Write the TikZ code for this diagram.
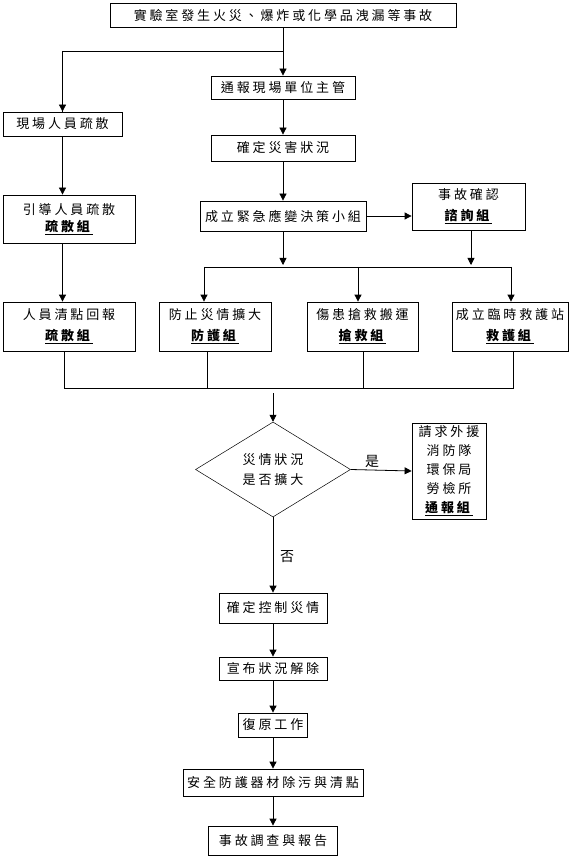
\documentclass[tikz,border=0pt]{standalone}
\usepackage{fontspec}
\usetikzlibrary{arrows.meta,shapes.geometric,calc}
\newfontfamily\cjk[LetterSpace=22]{Noto Sans CJK TC}
\newcommand\cjkf{\cjk\fontsize{13}{20}\selectfont}
\newcommand\grp[1]{\underline{\textbf{#1}}}
\tikzset{
  box/.style={draw, line width=0.8pt, inner sep=0pt, font=\cjkf, align=center},
  arr/.style={line width=0.8pt, -{Triangle[width=7pt,length=7pt]}},
  ln/.style={line width=0.8pt},
  lab/.style={font=\cjk\fontsize{14}{16}\selectfont, inner sep=0pt}
}
\begin{document}
\begin{tikzpicture}[x=1pt,y=-1pt]
\useasboundingbox (0,0) rectangle (570,858);
% nodes
\node[box, minimum width=346, minimum height=24] (top) at (283,15.5) {實驗室發生火災、爆炸或化學品洩漏等事故};
\node[box, minimum width=144, minimum height=23] (report) at (283,87.5) {通報現場單位主管};
\node[box, minimum width=119, minimum height=24] (evac) at (62.5,124) {現場人員疏散};
\node[box, minimum width=144, minimum height=26] (confirm) at (283,148) {確定災害狀況};
\node[box, minimum width=132, minimum height=48] (guide) at (69,219) {引導人員疏散\\[-3pt]\grp{疏散組}};
\node[box, minimum width=166, minimum height=30] (decide) at (283,216) {成立緊急應變決策小組};
\node[box, minimum width=113, minimum height=47] (inquiry) at (468.5,206.5) {事故確認\\[1pt]\grp{諮詢組}};
\node[box, minimum width=132, minimum height=49] (count) at (69,326.5) {人員清點回報\\[1pt]\grp{疏散組}};
\node[box, minimum width=112, minimum height=49] (prevent) at (215,326.5) {防止災情擴大\\[1pt]\grp{防護組}};
\node[box, minimum width=111, minimum height=49] (rescue) at (362.5,326.5) {傷患搶救搬運\\[1pt]\grp{搶救組}};
\node[box, minimum width=116, minimum height=49] (station) at (510,326.5) {成立臨時救護站\\[1pt]\grp{救護組}};
\node[draw, diamond, line width=0.5pt, inner sep=0pt, minimum width=155, minimum height=95, font=\cjkf, align=center] (dia) at (273,469.5) {災情狀況\\是否擴大};
\node[box, minimum width=74, minimum height=96, font=\cjk\fontsize{13}{19}\selectfont] (outside) at (449,471) {請求外援\\消防隊\\環保局\\勞檢所\\\grp{通報組}};
\node[box, minimum width=108, minimum height=30] (control) at (273,608) {確定控制災情};
\node[box, minimum width=108, minimum height=23] (lift) at (273,668.5) {宣布狀況解除};
\node[box, minimum width=69, minimum height=24] (restore) at (273,725) {復原工作};
\node[box, minimum width=180, minimum height=27] (clean) at (273,782.5) {安全防護器材除污與清點};
\node[box, minimum width=129, minimum height=29] (invest) at (273,840.5) {事故調查與報告};
% labels
\node[lab] (yes) at (372,461) {是};
\node[lab] (no) at (287,557) {否};
% coordinates
\coordinate (br) at (283,51);
\coordinate (b1l) at (204,267);
\coordinate (b1m) at (358,267);
\coordinate (b1r) at (511,267);
\coordinate (b1c) at (283,267);
\coordinate (b1i) at (471,267);
\coordinate (b2l) at (64,388);
\coordinate (b2a) at (207,388);
\coordinate (b2b) at (363,388);
\coordinate (b2r) at (513,388);
\coordinate (b2s) at (273,393);
% connectors
\draw[arr] (top.south) -- (report.north);
\draw[ln] (br) -| (evac.north);
\draw[arr] (br -| evac.north) -- (evac.north);
\draw[arr] (report.south) -- (confirm.north);
\draw[arr] (confirm.south) -- (decide.north);
\draw[arr] (evac.south) -- (evac.south |- guide.north);
\draw[arr] (evac.south |- guide.south) -- (evac.south |- count.north);
\draw[arr] (decide.east) -- (decide.east -| inquiry.west);
\draw[arr, shorten >=2pt] (decide.south) -- (b1c);
\draw[arr, shorten >=2pt] (inquiry.south -| b1i) -- (b1i);
\draw[ln] (b1l) -- (b1r);
\draw[arr] (b1l) -- (b1l |- prevent.north);
\draw[arr] (b1m) -- (b1m |- rescue.north);
\draw[arr] (b1r) -- (b1r |- station.north);
\draw[ln] (count.south -| b2l) -- (b2l) -- (b2r) -- (station.south -| b2r);
\draw[ln] (prevent.south -| b2a) -- (b2a);
\draw[ln] (rescue.south -| b2b) -- (b2b);
\draw[arr] (b2s) -- (dia.north);
\draw[arr] (dia.east) -- (outside.west);
\draw[arr] (dia.south) -- (control.north);
\draw[arr] (control.south) -- (lift.north);
\draw[arr] (lift.south) -- (restore.north);
\draw[arr] (restore.south) -- (clean.north);
\draw[arr] (clean.south) -- (invest.north);
\end{tikzpicture}
\end{document}
